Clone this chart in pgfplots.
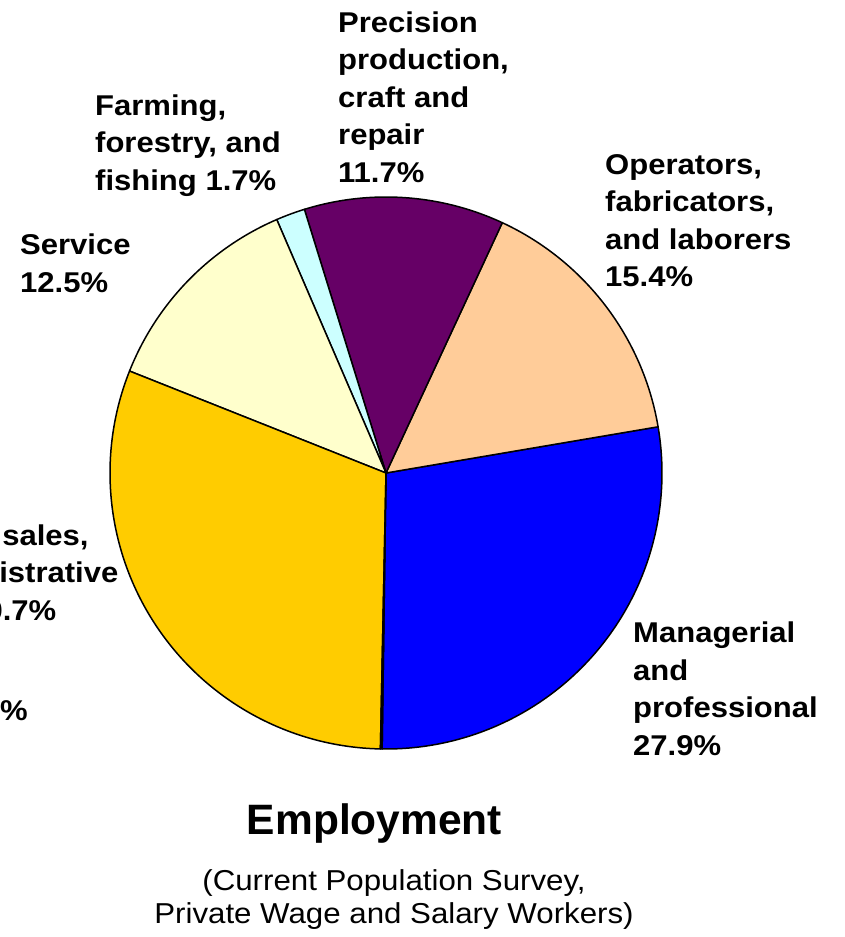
\documentclass[border=0pt]{standalone}
\usepackage{pgfplots}
\usepackage{pgfplotstable}
\pgfplotsset{compat=1.18}
\usepackage{fontspec}
\setmainfont{Liberation Sans}[FakeStretch=1.085]
\newfontfamily\titlefont{Liberation Sans}

\definecolor{slManager}{HTML}{0000FF}
\definecolor{slOperator}{HTML}{FFCC99}
\definecolor{slPrecision}{HTML}{660066}
\definecolor{slFarming}{HTML}{CCFFFF}
\definecolor{slService}{HTML}{FFFFCC}
\definecolor{slTechnical}{HTML}{FFCC00}
\definecolor{slOther}{HTML}{FF8080}

% share of employment (%), counter-clockwise from the bottom
\pgfplotstableread{
share colour
27.9 slManager
15.4 slOperator
11.7 slPrecision
1.7 slFarming
12.5 slService
30.7 slTechnical
0.1 slOther
}\employment

% build the slices once, in the preamble (no stray spaces in the page)
\def\pieradius{276}
\def\slices{}
\pgfmathsetmacro\curang{-90.8}
\pgfplotstablegetrowsof{\employment}
\pgfmathtruncatemacro\lastrow{\pgfplotsretval-1}
\pgfplotsforeachungrouped \i in {0,...,\lastrow}{%
  \pgfplotstablegetelem{\i}{share}\of\employment \let\share\pgfplotsretval
  \pgfplotstablegetelem{\i}{colour}\of\employment \let\col\pgfplotsretval
  \let\from\curang
  \pgfmathsetmacro\curang{\curang+3.6*\share}%
  \xdef\slices{\unexpanded\expandafter{\slices}%
    \noexpand\filldraw[fill=\col] (axis cs:0,0) -- (axis cs:{\pieradius*cos(\from)},{\pieradius*sin(\from)})
      arc[start angle=\from, end angle=\curang, radius=\pieradius pt] -- cycle;}%
}

\begin{document}
\begin{tikzpicture}[
  lbl/.style={font=\fontsize{28.6}{37.5}\selectfont\bfseries, inner sep=0pt, anchor=base west},
  sub/.style={font=\fontsize{28.8}{33}\selectfont, inner sep=0pt, anchor=base}]
\begin{axis}[x=1pt, y=1pt, xmin=-386, xmax=458, ymin=-464, ymax=473,
  scale only axis, disabledatascaling, hide axis, clip=false]
  \begin{scope}[draw=black, line width=1.5pt, line join=round]
    \slices
  \end{scope}
  \coordinate (bl) at (axis cs:-386,-464);
  \coordinate (tr) at (axis cs:458,473);
  % Precision production
  \node[lbl] at (axis cs:-48,440.5) {Precision};
  \node[lbl] at (axis cs:-48,403) {production,};
  \node[lbl] at (axis cs:-48,365.5) {craft and};
  \node[lbl] at (axis cs:-48,328) {repair};
  \node[lbl] at (axis cs:-48,290.5) {11.7\%};
  % Farming
  \node[lbl] at (axis cs:-291,357.5) {Farming,};
  \node[lbl] at (axis cs:-291,320) {forestry, and};
  \node[lbl] at (axis cs:-291,282.5) {fishing 1.7\%};
  % Operators
  \node[lbl] at (axis cs:219,298.5) {Operators,};
  \node[lbl] at (axis cs:219,261) {fabricators,};
  \node[lbl] at (axis cs:219,223.5) {and laborers};
  \node[lbl] at (axis cs:219,186) {15.4\%};
  % Service
  \node[lbl] at (axis cs:-366,218) {Service};
  \node[lbl] at (axis cs:-366,180.5) {12.5\%};
  % Managerial
  \node[lbl] at (axis cs:247,-169.5) {Managerial};
  \node[lbl] at (axis cs:247,-207) {and};
  \node[lbl] at (axis cs:247,-244.5) {professional};
  \node[lbl] at (axis cs:247,-282) {27.9\%};
  % Technical (runs off the left edge, as in the source chart)
  \node[lbl] at (axis cs:-542,-72) {Technical, sales,};
  \node[lbl] at (axis cs:-542,-109.5) {and administrative};
  \node[lbl] at (axis cs:-542,-147) {support 30.7\%};
  \node[lbl, anchor=base east] at (axis cs:-358,-247) {Other 0.1\%};
  % title
  \node[inner sep=0pt, anchor=base, font=\fontsize{42.5}{48}\selectfont\titlefont\bfseries]
    at (axis cs:-11.5,-361) {Employment};
  \node[sub] at (axis cs:8,-417) {(Current Population Survey,};
  \node[sub] at (axis cs:8,-450) {Private Wage and Salary Workers)};
\end{axis}
\pgfresetboundingbox
\useasboundingbox (bl) rectangle (tr);
\end{tikzpicture}
\end{document}
